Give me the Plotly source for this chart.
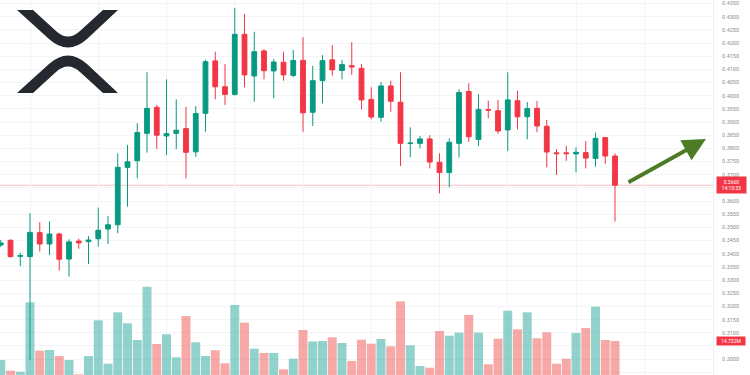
import plotly.graph_objects as go

# ---- data (XRP/USD candles, price in USD, volume in millions) ----
opens = [0.3433, 0.3451, 0.3390, 0.3389, 0.3480, 0.3437, 0.3475, 0.3380, 0.3448, 0.3446,
         0.3457, 0.3494, 0.3510, 0.3728, 0.3753, 0.3857, 0.3956, 0.3847, 0.3857, 0.3875,
         0.3787, 0.3933, 0.4132, 0.4034, 0.4005, 0.4233, 0.4075, 0.4170, 0.4094, 0.4127,
         0.4077, 0.4134, 0.3937, 0.4057, 0.4136, 0.4096, 0.4114, 0.4104, 0.3986, 0.3918,
         0.4037, 0.3975, 0.3819, 0.3819, 0.3836, 0.3747, 0.3708, 0.3819, 0.4016, 0.3834,
         0.3947, 0.3943, 0.3870, 0.3981, 0.3920, 0.3952, 0.3884, 0.3783, 0.3783, 0.3779,
         0.3784, 0.3762, 0.3841, 0.3771]
highs = [0.3452, 0.3455, 0.3404, 0.3554, 0.3520, 0.3523, 0.3480, 0.3455, 0.3457, 0.3467,
         0.3575, 0.3543, 0.3781, 0.3813, 0.3895, 0.4089, 0.3965, 0.4062, 0.3986, 0.3958,
         0.3961, 0.4136, 0.4167, 0.4120, 0.4332, 0.4310, 0.4243, 0.4177, 0.4139, 0.4167,
         0.4173, 0.4222, 0.4113, 0.4154, 0.4192, 0.4136, 0.4203, 0.4120, 0.4032, 0.4052,
         0.4057, 0.4089, 0.3880, 0.3847, 0.3850, 0.3781, 0.3838, 0.4024, 0.4047, 0.4006,
         0.3981, 0.3984, 0.4089, 0.4018, 0.3976, 0.3980, 0.3908, 0.3797, 0.3810, 0.3804,
         0.3828, 0.3860, 0.3842, 0.3781]
lows = [0.3426, 0.3386, 0.3353, 0.2997, 0.3408, 0.3395, 0.3336, 0.3313, 0.3419, 0.3361,
        0.3427, 0.3437, 0.3478, 0.3579, 0.3686, 0.3784, 0.3798, 0.3775, 0.3797, 0.3686,
        0.3768, 0.3863, 0.3986, 0.3965, 0.4000, 0.4032, 0.3977, 0.4062, 0.3990, 0.4057,
        0.4070, 0.3863, 0.3885, 0.3971, 0.4076, 0.4062, 0.4079, 0.3948, 0.3910, 0.3901,
        0.3939, 0.3733, 0.3766, 0.3800, 0.3724, 0.3629, 0.3652, 0.3765, 0.3825, 0.3809,
        0.3914, 0.3855, 0.3790, 0.3872, 0.3834, 0.3861, 0.3728, 0.3699, 0.3753, 0.3709,
        0.3724, 0.3730, 0.3741, 0.3522]
closes = [0.3441, 0.3389, 0.3393, 0.3481, 0.3437, 0.3475, 0.3379, 0.3445, 0.3441, 0.3452,
          0.3489, 0.3510, 0.3728, 0.3749, 0.3860, 0.3952, 0.3850, 0.3856, 0.3869, 0.3785,
          0.3932, 0.4129, 0.4034, 0.4005, 0.4233, 0.4079, 0.4167, 0.4095, 0.4128, 0.4079,
          0.4134, 0.3935, 0.4057, 0.4133, 0.4098, 0.4118, 0.4109, 0.3984, 0.3919, 0.4037,
          0.3979, 0.3819, 0.3820, 0.3836, 0.3748, 0.3708, 0.3823, 0.4012, 0.3844, 0.3948,
          0.3945, 0.3866, 0.3984, 0.3920, 0.3951, 0.3885, 0.3786, 0.3780, 0.3780, 0.3785,
          0.3763, 0.3838, 0.3771, 0.3660]
volumes = [6.50, 1.86, 1.43, 31.50, 10.53, 10.83, 8.23, 6.50, 0.30, 8.23,
           23.70, 4.90, 27.17, 22.40, 15.17, 38.26, 13.43, 17.64, 7.67, 25.56,
           14.17, 8.23, 10.70, 5.07, 30.33, 22.66, 11.40, 9.53, 9.53, 2.47,
           7.06, 19.50, 14.52, 14.73, 16.34, 13.87, 6.07, 15.30, 13.56, 15.60,
           12.44, 31.93, 12.87, 3.90, 3.16, 19.07, 17.03, 18.33, 26.00, 18.33,
           4.64, 15.73, 27.86, 19.80, 27.17, 15.90, 18.50, 4.90, 7.06, 18.20,
           20.37, 29.59, 15.17, 14.732]
tick_vals = [0.2950 + 0.005 * k for k in range(29)]
hidden_ticks = ["0.3650", "0.3050"]  # covered by the last-price / last-volume tags
tick_text = [("" if "%.4f" % v in hidden_ticks else "%.4f" % v) for v in tick_vals]
last_price_label = "0.3660<br>14:10:53"
last_volume_label = "14.732M"

x = list(range(len(opens)))
UP, DOWN = "#089981", "#f23645"
vol_colors = ["rgba(38,166,154,0.5)" if c >= o else "rgba(239,83,80,0.5)"
              for o, c in zip(opens, closes)]

W, H, PW = 750, 375, 713

fig = go.Figure()
fig.add_trace(go.Bar(x=x, y=volumes, marker=dict(color=vol_colors, line=dict(width=0)),
                     yaxis="y2", showlegend=False, hoverinfo="skip"))
fig.add_trace(go.Candlestick(x=x, open=opens, high=highs, low=lows, close=closes,
                             increasing=dict(line=dict(color=UP, width=1), fillcolor=UP),
                             decreasing=dict(line=dict(color=DOWN, width=1), fillcolor=DOWN),
                             showlegend=False, yaxis="y"))


def pp(points):
    return [(px / PW, 1 - py / H) for px, py in points]


def path_str(cmds):
    out = []
    for c, pts in cmds:
        if pts:
            conv = pp(pts)
            out.append(c + " " + " ".join("%.5f,%.5f" % p for p in conv))
        else:
            out.append(c)
    return " ".join(out)


upper = [("M", [(17, 10)]), ("L", [(33, 10)]), ("L", [(56, 31)]), ("Q", [(68, 42), (80, 31)]),
         ("L", [(103, 10)]), ("L", [(118, 10)]), ("L", [(87, 39)]), ("Q", [(68, 56), (49, 39)]),
         ("Z", [])]
lower = [(c, [(px, 103 - py) for px, py in pts]) for c, pts in upper]

shapes = []
for part in (upper, lower):
    shapes.append(dict(type="path", xref="paper", yref="paper", path=path_str(part),
                       fillcolor="#23292f", line=dict(width=0), layer="above"))
shapes.append(dict(type="line", xref="paper", yref="y", x0=0, x1=1, y0=closes[-1], y1=closes[-1],
                   line=dict(color="rgba(242,54,69,0.3)", width=1), layer="below"))

annotations = [
    dict(xref="paper", yref="y", x=1.004, y=closes[-1], xanchor="left", yanchor="middle",
         text=last_price_label, showarrow=False, bgcolor="#f23645", borderpad=1.5, width=26,
         font=dict(color="white", size=5, family="Roboto")),
    dict(xref="paper", yref="y2", x=1.004, y=volumes[-1], xanchor="left", yanchor="middle",
         text=last_volume_label, showarrow=False, bgcolor="#f23645", borderpad=1, width=26,
         font=dict(color="white", size=5, family="Roboto")),
    dict(xref="paper", yref="paper", x=706 / PW, y=1 - 139 / H, ax=-79, ay=44,
         showarrow=True, arrowhead=2, arrowsize=1.15, arrowwidth=4, arrowcolor="#4d7c27", text=""),
]

fig.update_layout(
    width=W, height=H, margin=dict(l=0, r=W - PW, t=0, b=0),
    paper_bgcolor="white", plot_bgcolor="white",
    xaxis=dict(range=[-0.077, 73.05], showticklabels=False, rangeslider=dict(visible=False),
               showgrid=True, gridcolor="#f3f4f7", tick0=3, dtick=7, zeroline=False,
               showline=False, fixedrange=True),
    yaxis=dict(side="right", range=[0.29396, 0.43633], tickvals=tick_vals, ticktext=tick_text,
               showgrid=True, gridcolor="#f3f4f7", zeroline=False,
               tickfont=dict(size=5.5, color="#8a8d96", family="Roboto"),
               ticklabelstandoff=7, showline=True, linecolor="#eef0f4"),
    yaxis2=dict(overlaying="y", range=[0, 162.5], visible=False),
    bargap=0.08, boxgap=0.3,
    shapes=shapes, annotations=annotations,
)

fig.write_html("out.html", config={"displayModeBar": False},
               post_script="document.body.style.margin='0';")
